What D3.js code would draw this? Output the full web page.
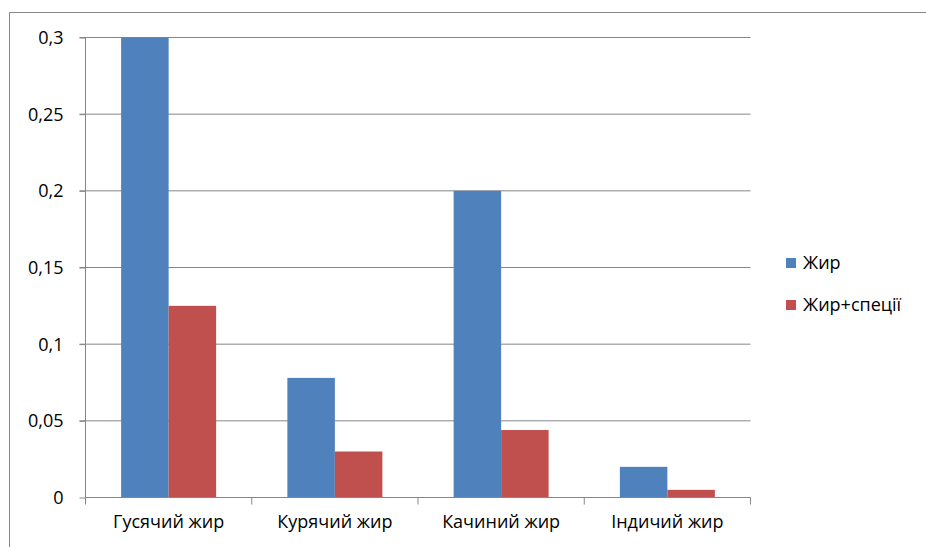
<!DOCTYPE html>
<html>
<head>
<meta charset="utf-8">
<script src="https://cdn.jsdelivr.net/npm/d3@7"></script>
<style>
  body { margin: 0; background: #fff; }
  svg text { font-family: "Open Sans", "Noto Sans", sans-serif; fill: #000; font-style: normal; font-weight: 400; }
</style>
</head>
<body>
<div id="chart"></div>
<script>
// Categories and series values
const categories = ["Гусячий жир", "Курячий жир", "Качиний жир", "Індичий жир"];
const seriesNames = ["Жир", "Жир+спеції"];
const fat = [0.3, 0.078, 0.2, 0.02];
const fatSpice = [0.125, 0.03, 0.044, 0.005];
const yTicks = [0, 0.05, 0.1, 0.15, 0.2, 0.25, 0.3];
const colors = ["#4F81BD", "#C0504D"];

const W = 926, H = 547;
const fontSize = "18px";
const svg = d3.select("#chart").append("svg")
  .attr("width", W)
  .attr("height", H);

// Outer chart frame (only left and top edges are visible)
svg.append("path")
  .attr("d", "M9.5," + H + " V12.5 H" + W)
  .attr("fill", "none")
  .attr("stroke", "#868686")
  .attr("stroke-width", 1);

const plot = { left: 85.5, right: 750.5, top: 37.5, bottom: 497.5 };

const x = d3.scaleBand()
  .domain(categories)
  .range([plot.left, plot.right]);

// gap width 150% -> inner group is 2/(2+1.5) of the band
const groupW = x.bandwidth() * 2 / 3.5;
const x1 = d3.scaleBand()
  .domain(seriesNames)
  .range([0, groupW]);

const y = d3.scaleLinear()
  .domain([0, 0.3])
  .range([plot.bottom, plot.top]);

// Gridlines
svg.append("g")
  .selectAll("line")
  .data(yTicks.filter(d => d > 0))
  .enter()
  .append("line")
  .attr("x1", plot.left - 6)
  .attr("x2", plot.right)
  .attr("y1", d => y(d))
  .attr("y2", d => y(d))
  .attr("stroke", "#868686");

// Y axis
const fmt = d => d3.format("")(d).replace(".", ",");
const yAxis = svg.append("g")
  .attr("transform", "translate(" + plot.left + ",0)")
  .call(d3.axisLeft(y).tickValues(yTicks).tickSize(6).tickPadding(16).tickFormat(fmt));
yAxis.selectAll("path, line").attr("stroke", "#868686");
yAxis.select(".domain").attr("d", "M0," + plot.bottom + "V" + plot.top);
yAxis.selectAll("text").style("font-size", fontSize).attr("dy", "0.34em");

// Bars
const rows = categories.map((c, i) => ({ cat: c, vals: [fat[i], fatSpice[i]] }));
const groups = svg.selectAll(".grp")
  .data(rows)
  .enter()
  .append("g")
  .attr("class", "grp")
  .attr("transform", d => "translate(" + (x(d.cat) + (x.bandwidth() - groupW) / 2) + ",0)");

groups.selectAll("rect")
  .data(d => d.vals.map((v, j) => ({ name: seriesNames[j], v: v, j: j })))
  .enter()
  .append("rect")
  .attr("x", d => x1(d.name))
  .attr("y", d => y(d.v))
  .attr("width", x1.bandwidth())
  .attr("height", d => plot.bottom - y(d.v))
  .attr("fill", d => colors[d.j]);

// X axis
const xAxis = svg.append("g")
  .attr("transform", "translate(0," + plot.bottom + ")")
  .call(d3.axisBottom(x).tickSize(0).tickPadding(18));
xAxis.select(".domain").attr("stroke", "#868686").attr("d", "M" + plot.left + ",0H" + plot.right);
xAxis.selectAll("text").style("font-size", fontSize);

// Category separator ticks
svg.append("g")
  .selectAll("line")
  .data(d3.range(categories.length + 1))
  .enter()
  .append("line")
  .attr("x1", i => plot.left + i * x.step())
  .attr("x2", i => plot.left + i * x.step())
  .attr("y1", plot.bottom)
  .attr("y2", plot.bottom + 7)
  .attr("stroke", "#868686");

// Legend
const legend = svg.append("g");
seriesNames.forEach((name, i) => {
  const ly = 263 + i * 42;
  legend.append("rect")
    .attr("x", 786)
    .attr("y", ly - 5)
    .attr("width", 10)
    .attr("height", 10)
    .attr("fill", colors[i]);
  legend.append("text")
    .attr("x", 803)
    .attr("y", ly)
    .attr("dy", "0.35em")
    .style("font-size", fontSize)
    .text(name);
});
</script>
</body>
</html>
